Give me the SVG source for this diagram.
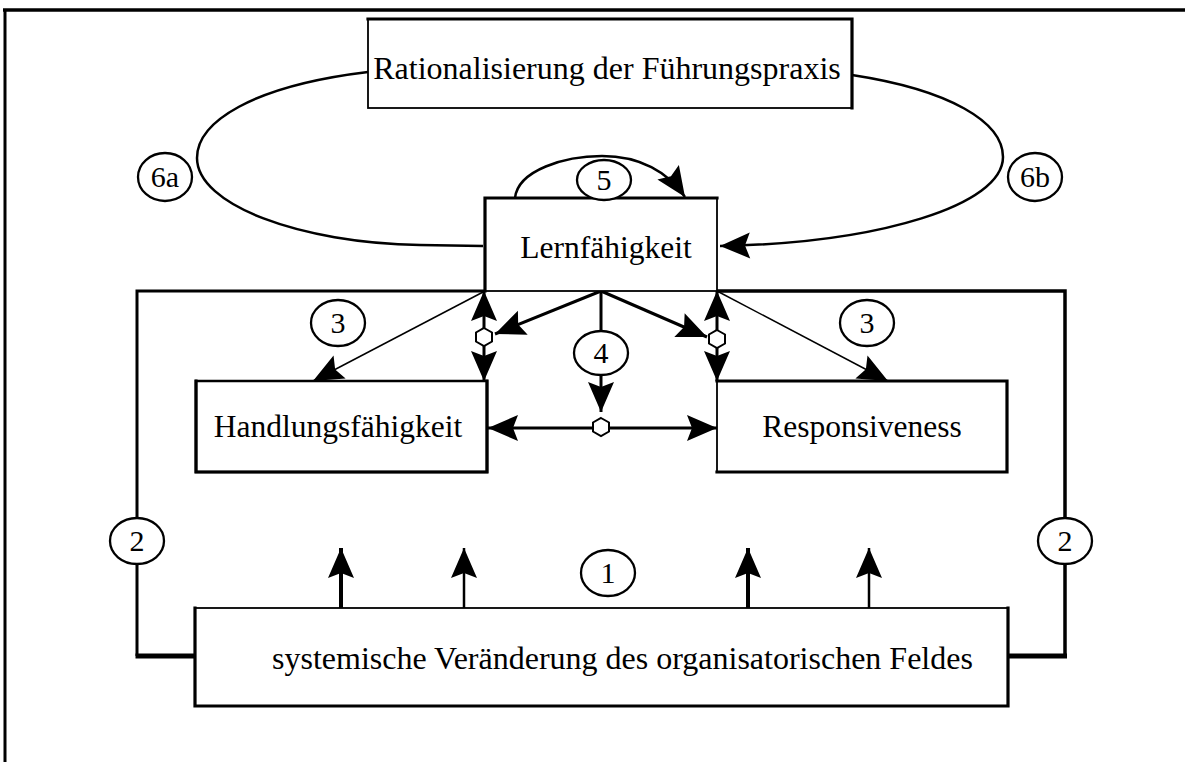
<svg xmlns="http://www.w3.org/2000/svg" width="1185" height="762" viewBox="0 0 1185 762">
  <style>
    text { font-family: "Liberation Serif", "Times New Roman", serif; fill: #000; }
    .t { font-size: 31.5px; text-anchor: middle; }
    .n { font-size: 30px; text-anchor: middle; }
    .box { fill: #fff; stroke: #000; stroke-width: 1.8; }
    .edge { fill: none; stroke: #000; stroke-width: 3.2; stroke-linecap: square; }
    .lab { fill: #fff; stroke: #000; stroke-width: 2.3; }
    .hex { fill: #fff; stroke: #000; stroke-width: 2; }
    .ln { fill: none; stroke: #000; }
  </style>
  <defs>
    <marker id="ah" viewBox="-31 -14 32 28" refX="0" refY="0" markerWidth="32" markerHeight="28" markerUnits="userSpaceOnUse" orient="auto-start-reverse">
      <path d="M0,0 L-30,-13 L-25,0 L-30,13 Z" fill="#000"/>
    </marker>
  </defs>

  <rect x="0" y="0" width="1185" height="762" fill="#fff"/>

  <!-- page frame -->
  <g id="frame" class="ln">
    <line x1="3" y1="10" x2="1185" y2="10" stroke-width="3.5"/>
    <line x1="5" y1="10" x2="5" y2="762" stroke-width="3"/>
  </g>

  <!-- connectors -->
  <g id="connectors" class="ln">
    <!-- feedback loop 6a / 6b -->
    <path d="M368,72 C252,86 197,122 197,158 C197,205 300,243 420,245 L483,246" stroke-width="2.5"/>
    <path d="M852,75 C950,90 1003,122 1003,157 C1003,205 880,243 720,246" stroke-width="2.5" marker-end="url(#ah)"/>
    <!-- self loop 5 -->
    <path d="M515,198 C518,170 565,156 602,156 C640,156 668,172 685,197" stroke-width="2.5" marker-end="url(#ah)"/>

    <!-- outer loop 2 -->
    <path d="M485,291 L137,291 L137,656" stroke-width="3"/>
    <path d="M717,291 L1065,291 L1065,656" stroke-width="3.5"/>
    <line x1="135.5" y1="656" x2="195" y2="656" stroke-width="5"/>
    <line x1="1008" y1="656" x2="1067" y2="656" stroke-width="5"/>

    <!-- influence 3 -->
    <line x1="485" y1="291" x2="313" y2="381" stroke-width="1.5" marker-end="url(#ah)"/>
    <line x1="717" y1="291" x2="888" y2="381" stroke-width="1.5" marker-end="url(#ah)"/>

    <!-- interaction 4 -->
    <line x1="601" y1="291" x2="495" y2="334" stroke-width="3" marker-end="url(#ah)"/>
    <line x1="601" y1="291" x2="707" y2="337" stroke-width="3" marker-end="url(#ah)"/>
    <line x1="601" y1="291" x2="601" y2="332" stroke-width="3"/>
    <line x1="601" y1="375" x2="601" y2="412" stroke-width="3" marker-end="url(#ah)"/>
    <line x1="484" y1="291" x2="484" y2="381" stroke-width="3" marker-start="url(#ah)" marker-end="url(#ah)"/>
    <line x1="717" y1="291" x2="717" y2="381" stroke-width="3" marker-start="url(#ah)" marker-end="url(#ah)"/>
    <line x1="488" y1="428" x2="717" y2="428" stroke-width="3" marker-start="url(#ah)" marker-end="url(#ah)"/>

    <!-- field change 1 -->
    <line x1="341" y1="608" x2="341" y2="548" stroke-width="4" marker-end="url(#ah)"/>
    <line x1="464" y1="608" x2="464" y2="548" stroke-width="2.5" marker-end="url(#ah)"/>
    <line x1="748" y1="608" x2="748" y2="548" stroke-width="4" marker-end="url(#ah)"/>
    <line x1="869" y1="608" x2="869" y2="548" stroke-width="2.5" marker-end="url(#ah)"/>
  </g>

  <!-- boxes -->
  <g id="rationalisierung">
    <rect class="box" x="368" y="19" width="484" height="89"/>
    <polyline class="edge" points="368,19 852,19 852,108"/>
    <text class="t" x="607" y="79" style="font-size:32px">Rationalisierung der Führungspraxis</text>
  </g>
  <g id="lernfaehigkeit">
    <rect class="box" x="485" y="198" width="232" height="93"/>
    <polyline class="edge" points="485,291 485,198 717,198"/>
    <text class="t" x="606" y="258">Lernfähigkeit</text>
  </g>
  <g id="handlungsfaehigkeit">
    <rect class="box" x="196" y="381" width="291" height="91" style="stroke-width:2.5"/>
    <polyline class="edge" points="196,381 196,472 487,472 487,381"/>
    <text class="t" x="338" y="437">Handlungsfähigkeit</text>
  </g>
  <g id="responsiveness">
    <rect class="box" x="717" y="381" width="290" height="91"/>
    <polyline class="edge" points="717,381 1007,381 1007,472 717,472"/>
    <text class="t" x="862" y="437">Responsiveness</text>
  </g>
  <g id="feld">
    <rect class="box" x="195" y="608" width="813" height="98"/>
    <polyline class="edge" points="195,608 195,706 1008,706 1008,608"/>
    <text x="272" y="669" style="font-size:32px">systemische Veränderung des organisatorischen Feldes</text>
  </g>

  <!-- junction points -->
  <g id="junctions">
    <polygon class="hex" points="484,328 492,332.5 492,341.5 484,346 476,341.5 476,332.5"/>
    <polygon class="hex" points="717,330 725,334.5 725,343.5 717,348 709,343.5 709,334.5"/>
    <polygon class="hex" points="601,418 609,422.5 609,431.5 601,436 593,431.5 593,422.5"/>
  </g>

  <!-- numbered labels -->
  <g id="label-6a"><ellipse class="lab" cx="165" cy="177" rx="27" ry="24"/><text class="n" x="165" y="187">6a</text></g>
  <g id="label-6b"><ellipse class="lab" cx="1035" cy="177" rx="27" ry="24"/><text class="n" x="1035" y="187">6b</text></g>
  <g id="label-5"><ellipse class="lab" cx="604" cy="180" rx="27" ry="20"/><text class="n" x="604" y="190">5</text></g>
  <g id="label-3a"><ellipse class="lab" cx="338" cy="323" rx="27" ry="23"/><text class="n" x="338" y="333">3</text></g>
  <g id="label-3b"><ellipse class="lab" cx="867" cy="323" rx="27" ry="23"/><text class="n" x="867" y="333">3</text></g>
  <g id="label-4"><ellipse class="lab" cx="601" cy="353" rx="27" ry="22"/><text class="n" x="601" y="363">4</text></g>
  <g id="label-2a"><ellipse class="lab" cx="137" cy="541" rx="27" ry="23"/><text class="n" x="137" y="551">2</text></g>
  <g id="label-2b"><ellipse class="lab" cx="1065" cy="541" rx="27" ry="23"/><text class="n" x="1065" y="551">2</text></g>
  <g id="label-1"><ellipse class="lab" cx="608" cy="573" rx="27" ry="23"/><text class="n" x="608" y="583">1</text></g>
</svg>
